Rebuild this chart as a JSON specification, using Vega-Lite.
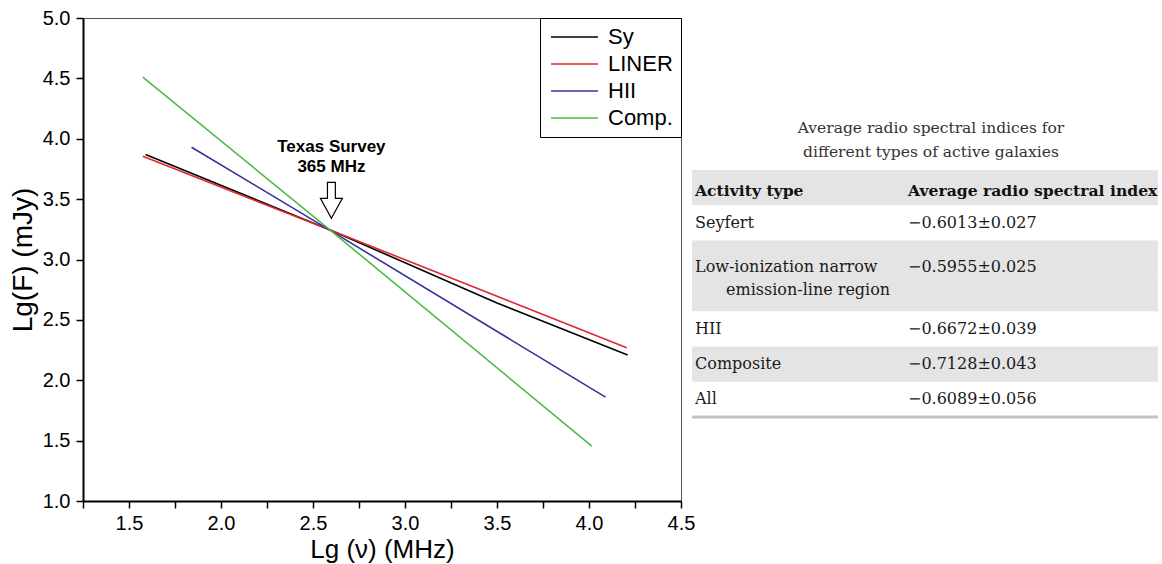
{
  "$schema": "https://vega.github.io/schema/vega-lite/v6.json",
  "padding": {"left": 8, "top": 7, "right": 0, "bottom": 0},
  "bounds": "flush",
  "spacing": 11,
  "config": {"view": {"stroke": null}, "font": "Liberation Sans", "axis": {"grid": false}},
  "resolve": {"scale": {"color": "independent"}, "legend": {"color": "independent"}},
  "datasets": {
    "lines": [
      {"series": "Sy", "nu": 1.59, "F": 3.87}, {"series": "Sy", "nu": 2.6, "F": 3.24}, {"series": "Sy", "nu": 3.5, "F": 2.64}, {"series": "Sy", "nu": 4.21, "F": 2.21},
      {"series": "LINER", "nu": 1.575, "F": 3.855}, {"series": "LINER", "nu": 2.6, "F": 3.24}, {"series": "LINER", "nu": 4.205, "F": 2.27},
      {"series": "HII", "nu": 1.84, "F": 3.93}, {"series": "HII", "nu": 2.6, "F": 3.235}, {"series": "HII", "nu": 4.09, "F": 1.86},
      {"series": "Comp.", "nu": 1.575, "F": 4.51}, {"series": "Comp.", "nu": 2.6, "F": 3.235}, {"series": "Comp.", "nu": 4.015, "F": 1.455}
    ],
    "annot": [{"nu": 2.6, "F": 3.93, "label": "Texas Survey\n365 MHz"}],
    "arrow": [{"nu": 2.6, "F": 3.49}],
    "cells": [
      {"line": 0, "col": "type", "txt": "Activity type", "bold": true, "indent": false, "shade": true},
      {"line": 0, "col": "index", "txt": "Average radio spectral index", "bold": true, "indent": false, "shade": true},
      {"line": 1, "col": "type", "txt": "Seyfert", "bold": false, "indent": false, "shade": false},
      {"line": 1, "col": "index", "txt": "−0.6013±0.027", "bold": false, "indent": false, "shade": false},
      {"line": 2, "col": "type", "txt": "Low-ionization narrow", "bold": false, "indent": false, "shade": true},
      {"line": 2, "col": "index", "txt": "−0.5955±0.025", "bold": false, "indent": false, "shade": true},
      {"line": 3, "col": "type", "txt": "emission-line region", "bold": false, "indent": true, "shade": true},
      {"line": 4, "col": "type", "txt": "HII", "bold": false, "indent": false, "shade": false},
      {"line": 4, "col": "index", "txt": "−0.6672±0.039", "bold": false, "indent": false, "shade": false},
      {"line": 5, "col": "type", "txt": "Composite", "bold": false, "indent": false, "shade": true},
      {"line": 5, "col": "index", "txt": "−0.7128±0.043", "bold": false, "indent": false, "shade": true},
      {"line": 6, "col": "type", "txt": "All", "bold": false, "indent": false, "shade": false},
      {"line": 6, "col": "index", "txt": "−0.6089±0.056", "bold": false, "indent": false, "shade": false}
    ],
    "title": [
      {"tl": 0, "txt": "Average radio spectral indices for"},
      {"tl": 1, "txt": "different types of active galaxies"}
    ]
  },
  "hconcat": [
    {
      "width": 598,
      "height": 483,
      "view": {"stroke": "#555", "strokeWidth": 1},
      "layer": [
        {
          "data": {"name": "lines"},
          "mark": {"type": "line", "strokeWidth": 1.6},
          "encoding": {
            "x": {
              "field": "nu", "type": "quantitative",
              "scale": {"domain": [1.25, 4.5], "nice": false, "zero": false},
              "axis": {
                "title": "Lg (ν) (MHz)",
                "values": [1.25, 1.5, 1.75, 2, 2.25, 2.5, 2.75, 3, 3.25, 3.5, 3.75, 4, 4.25, 4.5],
                "labelExpr": "(round(datum.value*100) % 50 == 0) ? format(datum.value, '.1f') : ''",
                "domainColor": "black", "domainWidth": 2,
                "tickColor": "black", "tickWidth": 1.5, "tickSize": 7,
                "labelFontSize": 20, "labelColor": "black", "labelFlush": false, "labelOverlap": false, "labelPadding": 5,
                "titleFontSize": 26, "titleFontWeight": "normal", "titleColor": "black", "titlePadding": 3
              }
            },
            "y": {
              "field": "F", "type": "quantitative",
              "scale": {"domain": [1, 5], "nice": false, "zero": false},
              "axis": {
                "title": "Lg(F) (mJy)",
                "values": [1, 1.25, 1.5, 1.75, 2, 2.25, 2.5, 2.75, 3, 3.25, 3.5, 3.75, 4, 4.25, 4.5, 4.75, 5],
                "labelExpr": "(round(datum.value*100) % 50 == 0) ? format(datum.value, '.1f') : ''",
                "domainColor": "black", "domainWidth": 2,
                "tickColor": "black", "tickWidth": 1.5, "tickSize": 7,
                "labelFontSize": 20, "labelColor": "black", "labelFlush": false, "labelOverlap": false, "labelPadding": 6,
                "titleFontSize": 28, "titleFontWeight": "normal", "titleColor": "black", "titlePadding": 5
              }
            },
            "color": {
              "field": "series", "type": "nominal",
              "scale": {"domain": ["Sy", "LINER", "HII", "Comp."], "range": ["#000000", "#e0282e", "#34349c", "#4cbb47"]},
              "legend": {
                "title": null, "orient": "top-right", "offset": 0,
                "symbolType": "stroke", "symbolSize": 2209, "symbolStrokeWidth": 1.6,
                "clipHeight": 22, "rowPadding": 5, "padding": 8,
                "symbolOffset": 2, "labelOffset": 9,
                "labelFont": "Liberation Sans", "labelFontSize": 22, "labelColor": "black",
                "strokeColor": "black", "fillColor": "white"
              }
            }
          }
        },
        {
          "data": {"name": "annot"},
          "mark": {"type": "text", "lineBreak": "\n", "fontWeight": "bold", "fontSize": 17, "lineHeight": 19.5, "align": "center", "baseline": "middle", "color": "black"},
          "encoding": {
            "x": {"field": "nu", "type": "quantitative"},
            "y": {"field": "F", "type": "quantitative"},
            "text": {"field": "label"}
          }
        },
        {
          "data": {"name": "arrow"},
          "mark": {"type": "point", "shape": "M-0.22,-1L0.22,-1L0.22,-0.11L0.61,-0.11L0,1L-0.61,-0.11L-0.22,-0.11Z", "size": 1296, "filled": true, "fill": "white", "stroke": "black", "strokeWidth": 1.2, "opacity": 1},
          "encoding": {
            "x": {"field": "nu", "type": "quantitative"},
            "y": {"field": "F", "type": "quantitative"}
          }
        }
      ]
    },
    {
      "width": 466,
      "height": 483,
      "layer": [
        {
          "data": {"name": "cells"},
          "transform": [{"filter": "datum.col == 'type' && datum.shade"}],
          "mark": {"type": "rect", "color": "#e4e4e4"},
          "encoding": {
            "y": {"field": "line", "type": "ordinal", "scale": {"type": "band", "domain": [0, 1, 2, 3, 4, 5, 6], "range": [152, 399], "paddingInner": 0, "paddingOuter": 0}, "axis": null}
          }
        },
        {
          "data": {"name": "cells"},
          "transform": [{"filter": "datum.col == 'type' && datum.line == 6"}],
          "mark": {"type": "rule", "color": "#c4c4c4", "strokeWidth": 3},
          "encoding": {
            "y": {"field": "line", "type": "ordinal", "bandPosition": 1, "scale": {"type": "band", "domain": [0, 1, 2, 3, 4, 5, 6], "range": [152, 399], "paddingInner": 0, "paddingOuter": 0}, "axis": null}
          }
        },
        {
          "data": {"name": "cells"},
          "transform": [{"filter": "!datum.bold && !datum.indent && datum.line != 2"}],
          "mark": {"type": "text", "align": "left", "baseline": "middle", "font": "DejaVu Serif", "fontSize": 16, "color": "#1a1a1a"},
          "encoding": {
            "x": {"field": "col", "type": "nominal", "bandPosition": 0, "scale": {"type": "band", "domain": ["type", "index"], "range": [3, 429], "paddingInner": 0, "paddingOuter": 0}, "axis": null},
            "y": {"field": "line", "type": "ordinal", "scale": {"type": "band", "domain": [0, 1, 2, 3, 4, 5, 6], "range": [152, 399], "paddingInner": 0, "paddingOuter": 0}, "axis": null},
            "text": {"field": "txt"}
          }
        },
        {
          "data": {"name": "cells"},
          "transform": [{"filter": "datum.line == 2"}],
          "mark": {"type": "text", "align": "left", "baseline": "middle", "font": "DejaVu Serif", "fontSize": 16, "color": "#1a1a1a"},
          "encoding": {
            "x": {"field": "col", "type": "nominal", "bandPosition": 0, "scale": {"type": "band", "domain": ["type", "index"], "range": [3, 429], "paddingInner": 0, "paddingOuter": 0}, "axis": null},
            "y": {"field": "line", "type": "ordinal", "bandPosition": 0.75, "scale": {"type": "band", "domain": [0, 1, 2, 3, 4, 5, 6], "range": [152, 399], "paddingInner": 0, "paddingOuter": 0}, "axis": null},
            "text": {"field": "txt"}
          }
        },
        {
          "data": {"name": "cells"},
          "transform": [{"filter": "datum.indent"}],
          "mark": {"type": "text", "align": "left", "baseline": "middle", "font": "DejaVu Serif", "fontSize": 16, "color": "#1a1a1a", "dx": 31},
          "encoding": {
            "x": {"field": "col", "type": "nominal", "bandPosition": 0, "scale": {"type": "band", "domain": ["type", "index"], "range": [3, 429], "paddingInner": 0, "paddingOuter": 0}, "axis": null},
            "y": {"field": "line", "type": "ordinal", "bandPosition": 0.4, "scale": {"type": "band", "domain": [0, 1, 2, 3, 4, 5, 6], "range": [152, 399], "paddingInner": 0, "paddingOuter": 0}, "axis": null},
            "text": {"field": "txt"}
          }
        },
        {
          "data": {"name": "cells"},
          "transform": [{"filter": "datum.bold"}],
          "mark": {"type": "text", "align": "left", "baseline": "middle", "font": "DejaVu Serif", "fontSize": 15.6, "fontWeight": "bold", "color": "#111"},
          "encoding": {
            "x": {"field": "col", "type": "nominal", "bandPosition": 0, "scale": {"type": "band", "domain": ["type", "index"], "range": [3, 429], "paddingInner": 0, "paddingOuter": 0}, "axis": null},
            "y": {"field": "line", "type": "ordinal", "bandPosition": 0.6, "scale": {"type": "band", "domain": [0, 1, 2, 3, 4, 5, 6], "range": [152, 399], "paddingInner": 0, "paddingOuter": 0}, "axis": null},
            "text": {"field": "txt"}
          }
        },
        {
          "data": {"name": "title"},
          "mark": {"type": "text", "align": "center", "baseline": "middle", "font": "DejaVu Serif", "fontSize": 15.5, "color": "#333", "dx": 6},
          "encoding": {
            "y": {"field": "tl", "type": "ordinal", "scale": {"type": "point", "domain": [0, 1], "range": [110, 134], "padding": 0}, "axis": null},
            "text": {"field": "txt"}
          }
        }
      ],
      "resolve": {"scale": {"y": "independent"}}
    }
  ]
}
